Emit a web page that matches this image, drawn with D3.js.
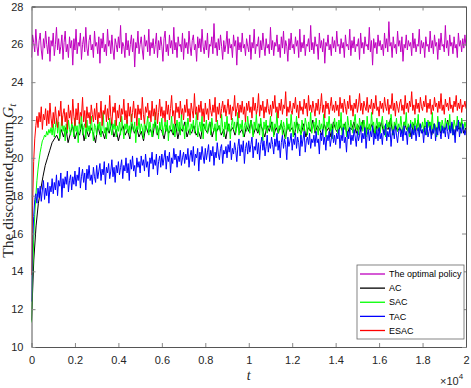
<!DOCTYPE html>
<html>
<head>
<meta charset="utf-8">
<script src="https://cdn.jsdelivr.net/npm/d3@7"></script>
<style>
  body { margin: 0; background: #fff; }
</style>
</head>
<body>
<script>
// every run covers t = 0 .. 20000, samples evenly spaced over that span
const tMax = 20000;

const xTickValues = [0, 2000, 4000, 6000, 8000, 10000, 12000, 14000, 16000, 18000, 20000];
const xTickLabels = ['0', '0.2', '0.4', '0.6', '0.8', '1', '1.2', '1.4', '1.6', '1.8', '2'];
const yTickValues = [10, 12, 14, 16, 18, 20, 22, 24, 26, 28];

const seriesNames = ['The optimal policy', 'AC', 'SAC', 'TAC', 'ESAC'];
const seriesColors = ['#bf00bf', '#000000', '#00ff00', '#0000ff', '#ff0000'];

const optimalValues = [
  25.3, 26.5, 26.1, 25.6, 26.8, 25.9, 25.4, 26.2, 26.6, 25.7, 25.2, 26.3, 25.8, 26.7, 26.0, 25.5, 26.4, 25.1, 26.2, 25.9,
  26.6, 25.4, 26.0, 26.9, 25.7, 26.3, 25.5, 25.9, 26.5, 25.2, 26.1, 26.7, 25.6, 26.0, 25.3, 26.4, 25.8, 26.2, 24.9, 26.3,
  25.7, 26.8, 25.5, 26.1, 25.9, 26.6, 25.2, 26.0, 26.4, 25.6, 26.9, 25.8, 25.4, 26.2, 26.5, 25.7, 26.0, 25.3, 26.7, 25.9,
  26.1, 25.5, 26.4, 25.0, 26.3, 25.8, 26.6, 25.6, 26.0, 25.4, 26.8, 25.9, 26.2, 25.5, 26.5, 25.7, 25.2, 26.3, 26.0, 25.6,
  26.4, 25.8, 27.0, 25.5, 26.1, 25.9, 25.3, 26.6, 25.7, 26.2, 25.4, 26.0, 26.5, 25.6, 26.3, 24.8, 26.1, 25.8, 26.7, 25.5,
  26.0, 26.4, 25.7, 25.2, 26.5, 25.9, 26.2, 25.6, 26.8, 25.4, 26.1, 25.8, 26.3, 25.5, 26.0, 26.6, 25.3, 26.2, 25.7, 26.4,
  25.9, 25.1, 26.3, 26.7, 25.6, 26.0, 25.4, 26.5, 25.8, 26.2, 25.5, 26.9, 25.7, 26.1, 25.3, 26.4, 25.9, 26.0, 25.6, 26.6,
  25.2, 26.3, 25.8, 26.1, 25.5, 26.7, 25.9, 25.4, 26.2, 26.5, 25.7, 26.0, 25.1, 26.4, 25.8, 26.3, 25.6, 26.8, 25.9, 25.5,
  26.2, 25.7, 26.6, 25.3, 26.0, 25.9, 26.4, 25.5, 27.1, 25.8, 26.1, 25.4, 26.3, 25.7, 26.5, 25.9, 25.2, 26.2, 25.6, 26.0,
  26.7, 25.5, 26.3, 25.8, 26.0, 25.3, 26.5, 25.9, 26.2, 24.9, 26.4, 25.7, 26.1, 25.6, 26.6, 25.8, 26.0, 25.4, 26.3, 25.9,
  25.6, 26.5, 25.2, 26.1, 25.8, 26.8, 25.5, 26.0, 25.9, 26.4, 25.3, 26.2, 25.7, 26.6, 25.9, 25.4, 26.3, 25.8, 26.0, 25.5,
  26.9, 25.7, 26.2, 25.4, 26.1, 25.9, 26.5, 25.6, 26.0, 25.3, 26.4, 25.8, 26.7, 25.5, 26.2, 25.9, 25.1, 26.3, 25.7, 26.6,
  25.8, 26.0, 25.5, 26.4, 25.9, 26.2, 25.3, 26.8, 25.6, 26.1, 25.8, 26.5, 25.4, 26.0, 25.9, 26.3, 25.6, 27.0, 25.7, 26.1,
  25.5, 26.4, 25.9, 26.0, 25.2, 26.6, 25.8, 26.2, 25.6, 26.3, 25.0, 26.1, 25.9, 26.5, 25.7, 26.0, 25.4, 26.4, 25.8, 26.2,
  25.6, 26.7, 25.9, 26.0, 25.5, 26.3, 25.8, 26.1, 25.3, 26.5, 25.9, 26.0, 25.7, 26.8, 25.4, 26.2, 25.8, 26.4, 25.6, 26.0,
  25.9, 26.3, 25.2, 26.6, 25.8, 26.1, 25.5, 26.4, 25.9, 26.0, 25.7, 26.9, 25.6, 26.2, 24.9, 26.3, 25.8, 26.1, 25.5, 26.5,
  25.9, 26.2, 25.7, 26.0, 25.4, 26.6, 25.8, 26.3, 25.6, 27.2, 25.9, 26.1, 25.3, 26.4, 25.8, 26.0, 25.5, 26.7, 25.9, 26.2,
  25.6, 26.4, 25.1, 26.0, 25.8, 26.5, 25.7, 26.2, 25.9, 26.1, 25.4, 26.6, 25.8, 26.3, 25.6, 26.0, 25.9, 26.8, 25.5, 26.2,
  25.8, 26.1, 25.3, 26.4, 25.9, 26.0, 25.6, 26.7, 25.8, 26.2, 25.5, 26.5, 25.9, 26.1, 25.2, 26.3, 25.7, 26.6, 25.9, 26.0,
  25.6, 27.0, 25.8, 26.2, 25.4, 26.5, 25.9, 26.1, 25.5, 26.4, 25.8, 26.0, 25.3, 26.6, 25.9, 26.2, 25.6, 26.3, 25.8, 26.5,
  25.9
];

const acValues = [
  11.4, 14.6, 16.4, 17.6, 18.3, 19.0, 19.6, 20.0, 20.4, 20.8, 21.0,
  21.2, 20.9, 21.5, 21.1, 21.6, 20.8, 21.3, 21.7, 21.0, 21.4,
  21.2, 21.8, 20.9, 21.5, 21.1, 21.6, 21.3, 20.8, 21.7, 21.2,
  21.4, 21.0, 21.6, 21.3, 21.9, 21.1, 21.5, 20.9, 21.4, 21.7,
  21.2, 21.5, 21.0, 21.8, 21.3, 21.6, 21.1, 21.4, 20.9, 21.7,
  21.3, 21.5, 21.1, 21.9, 21.2, 21.6, 21.4, 21.0, 21.7, 21.3,
  21.5, 21.2, 21.8, 21.0, 21.6, 21.4, 21.9, 21.1, 21.5, 21.3,
  21.7, 21.2, 21.4, 21.0, 21.8, 21.5, 21.3, 21.9, 21.1, 21.6,
  21.4, 21.7, 21.2, 21.5, 21.0, 21.8, 21.4, 21.6, 21.2, 21.9,
  21.3, 21.5, 21.1, 21.7, 21.4, 22.0, 21.2, 21.6, 21.3, 21.8,
  21.5, 21.1, 21.7, 21.4, 21.9, 21.2, 21.6, 21.3, 21.8, 21.5,
  21.0, 21.7, 21.4, 21.6, 21.2, 21.9, 21.5, 21.3, 21.8, 21.1,
  21.6, 21.4, 22.0, 21.3, 21.7, 21.5, 21.2, 21.8, 21.4, 21.6,
  21.1, 21.9, 21.5, 21.3, 21.7, 21.4, 21.8, 21.2, 21.6, 21.5,
  21.9, 21.3, 21.7, 21.4, 22.0, 21.2, 21.6, 21.5, 21.8, 21.1,
  21.7, 21.4, 21.9, 21.3, 21.6, 21.5, 22.1, 21.2, 21.8, 21.4,
  21.6, 21.3, 21.9, 21.5, 21.7, 21.1, 21.8, 21.4, 22.0, 21.5,
  21.3, 21.7, 21.6, 21.9, 21.2, 21.8, 21.4, 21.7, 21.3, 21.6,
  21.5, 22.0, 21.4, 21.8, 21.2, 21.7, 21.5, 21.9, 21.3, 21.6
];

const sacValues = [
  11.3, 13.8, 15.7, 17.0, 18.0, 18.8, 19.4, 19.9, 20.3, 20.6, 20.9, 21.0, 21.2, 21.1, 21.4, 21.2, 21.5, 21.3, 21.6, 21.2,
  21.8, 21.1, 21.6, 22.1, 21.3, 21.9, 21.0, 21.5, 22.2, 21.4, 21.7, 20.9, 21.8, 21.3, 22.0, 21.5, 21.2, 21.9, 21.6, 21.1,
  22.1, 21.4, 21.7, 20.8, 21.9, 21.5, 22.3, 21.2, 21.6, 21.8, 21.0, 22.0, 21.4, 21.7, 21.3, 22.2, 21.5, 20.9, 21.8, 21.6,
  21.2, 22.0, 21.5, 21.9, 21.1, 21.7, 22.4, 21.3, 21.6, 21.0, 21.9, 21.4, 22.1, 21.6, 21.2, 21.8, 21.5, 22.0, 21.1, 21.7,
  21.4, 21.9, 21.2, 22.2, 21.6, 21.0, 21.8, 21.5, 22.0, 21.3, 21.7, 21.1, 22.3, 21.6, 21.4, 21.9, 20.8, 21.7, 21.5, 22.1,
  21.3, 21.8, 21.6, 21.0, 22.0, 21.4, 21.7, 22.2, 21.2, 21.9, 21.5, 21.1, 21.8, 21.6, 22.4, 21.3, 21.7, 21.0, 21.9, 21.5,
  22.1, 21.2, 21.6, 21.9, 21.4, 22.0, 20.9, 21.7, 21.5, 22.2, 21.3, 21.8, 21.1, 21.6, 22.0, 21.4, 21.9, 21.2, 22.3, 21.5,
  21.7, 21.0, 21.9, 21.4, 22.1, 21.6, 21.2, 21.8, 21.5, 22.0, 21.3, 21.7, 22.4, 21.1, 21.6, 21.9, 21.4, 22.2, 21.0, 21.8,
  21.5, 22.0, 21.3, 21.7, 21.9, 21.2, 22.1, 21.6, 21.4, 21.8, 20.9, 22.0, 21.5, 21.7, 21.3, 22.3, 21.6, 21.1, 21.9, 21.5,
  22.2, 21.4, 21.8, 21.0, 21.7, 22.1, 21.5, 21.9, 21.3, 21.6, 22.4, 21.2, 21.8, 21.5, 22.0, 21.1, 21.7, 21.9, 21.4, 22.2,
  21.6, 21.3, 22.0, 21.7, 21.1, 21.9, 21.5, 22.3, 21.4, 21.8, 21.2, 22.1, 21.6, 20.9, 21.9, 21.5, 22.0, 21.3, 21.7, 21.6,
  22.2, 21.4, 21.9, 21.1, 21.8, 21.6, 22.4, 21.3, 21.7, 21.5, 22.0, 21.2, 21.9, 21.6, 21.0, 22.1, 21.5, 21.8, 21.4, 22.3,
  21.6, 21.1, 21.9, 21.5, 22.2, 21.3, 21.8, 21.7, 21.0, 22.0, 21.6, 21.4, 22.1, 21.8, 21.2, 21.9, 21.5, 22.4, 21.3, 21.7,
  21.9, 21.4, 22.1, 21.6, 21.2, 22.0, 21.5, 21.8, 21.3, 22.3, 21.7, 21.1, 21.9, 21.6, 22.2, 21.4, 21.8, 21.0, 21.7, 22.1,
  21.5, 21.9, 21.3, 22.0, 21.6, 22.4, 21.2, 21.8, 21.5, 21.9, 21.1, 22.2, 21.7, 21.4, 22.0, 21.6, 21.3, 21.9, 22.3, 21.5,
  21.8, 21.2, 22.1, 21.6, 21.9, 21.4, 22.0, 21.7, 21.1, 22.2, 21.5, 21.8, 21.3, 22.4, 21.6, 21.9, 21.2, 21.7, 22.1, 21.5,
  21.9, 21.3, 21.8, 22.2, 21.5, 21.7, 21.1, 22.0, 21.6, 21.9, 21.4, 22.3, 21.7, 21.2, 21.9, 21.6, 22.1, 21.4, 21.8, 21.5,
  22.2, 21.6, 21.3, 21.9, 21.7, 22.4, 21.4, 21.8, 21.1, 22.0, 21.6, 21.9, 21.3, 22.1, 21.7, 21.5, 22.3, 21.2, 21.8, 21.6,
  21.9, 21.4, 22.1, 21.7, 21.2, 22.0, 21.6, 21.9, 21.5, 22.4, 21.3, 21.8, 21.7, 21.1, 22.2, 21.6, 21.9, 21.4, 22.0, 21.7,
  21.3, 22.1, 21.6, 21.9, 21.5, 22.3, 21.4, 21.8, 21.2, 22.0, 21.7, 21.5, 22.2, 21.6, 21.9, 21.3, 22.1, 21.7, 21.5, 21.9,
  21.6
];

const tacValues = [
  12.4, 15.5, 16.9, 17.8, 18.1, 17.6, 18.4, 17.9, 18.5, 17.7, 18.3, 18.8, 17.8, 18.4, 18.0, 18.7, 17.6, 18.5, 18.2, 18.9,
  18.1, 18.7, 18.3, 19.1, 18.0, 18.8, 18.5, 19.2, 17.9, 18.9, 18.4, 19.0, 18.6, 19.3, 18.2, 18.8, 19.1, 18.3, 19.0, 18.6,
  19.3, 18.5, 19.1, 18.8, 19.5, 18.4, 19.0, 19.4, 18.7, 19.2, 18.3, 19.4, 18.9, 19.6, 18.8, 19.1, 18.6, 19.5, 19.0, 18.7,
  19.6, 18.9, 19.3, 19.7, 18.8, 19.4, 19.1, 19.8, 18.6, 19.5, 19.2, 19.7, 18.9, 19.3, 19.9, 19.0, 19.5, 18.7, 19.6, 19.2,
  19.8, 19.1, 19.5, 19.9, 18.9, 19.6, 19.3, 20.0, 19.2, 19.7, 18.8, 19.9, 19.4, 20.1, 19.3, 19.6, 19.0, 20.0, 19.5, 19.8,
  19.2, 20.1, 19.6, 19.9, 19.3, 20.2, 19.5, 19.8, 19.0, 20.0, 19.7, 20.3, 19.4, 19.9, 19.6, 20.2, 19.1, 19.8, 20.1, 19.5,
  20.2, 19.6, 20.0, 20.4, 19.4, 20.1, 19.8, 20.3, 19.2, 20.0, 19.7, 20.5, 19.9, 20.2, 19.5, 20.1, 19.8, 20.4, 19.6, 20.0,
  20.3, 19.7, 20.2, 19.9, 20.5, 19.5, 20.1, 20.4, 19.8, 20.6, 19.6, 20.2, 20.0, 20.5, 19.3, 20.3, 19.9, 20.6, 20.1, 19.7,
  20.5, 19.9, 20.3, 20.7, 19.8, 20.4, 20.1, 20.6, 19.6, 20.3, 20.0, 20.8, 20.2, 19.9, 20.5, 20.7, 19.7, 20.4, 20.2, 20.6,
  20.0, 20.7, 20.3, 20.9, 19.9, 20.5, 20.2, 20.8, 20.4, 19.8, 20.6, 21.0, 20.1, 20.7, 20.3, 20.9, 19.7, 20.5, 20.8, 20.2,
  20.9, 20.3, 20.7, 21.1, 20.0, 20.6, 20.4, 21.0, 20.2, 20.8, 19.9, 20.7, 21.1, 20.4, 20.9, 20.1, 20.6, 21.2, 20.3, 20.8,
  20.5, 21.1, 20.7, 20.2, 21.0, 20.6, 21.3, 20.4, 20.9, 20.0, 20.8, 21.2, 20.5, 21.0, 20.7, 19.9, 21.1, 20.6, 20.9, 21.3,
  20.4, 21.0, 20.7, 21.3, 20.5, 21.1, 20.8, 20.1, 21.2, 20.6, 21.0, 21.4, 20.3, 20.9, 21.1, 20.7, 21.3, 20.5, 21.0, 20.8,
  21.2, 20.6, 21.4, 20.8, 21.0, 20.2, 21.3, 20.9, 21.5, 20.7, 21.1, 20.4, 21.2, 20.9, 21.4, 20.6, 21.0, 21.5, 20.8, 21.2,
  20.7, 21.3, 21.0, 21.5, 20.5, 21.2, 20.9, 21.6, 20.8, 21.1, 20.3, 21.4, 21.0, 21.6, 20.7, 21.2, 20.9, 21.5, 21.1, 20.6,
  21.4, 20.9, 21.2, 21.7, 20.8, 21.3, 21.0, 21.6, 20.5, 21.2, 21.5, 20.9, 21.4, 21.1, 21.7, 20.7, 21.3, 21.0, 21.5, 20.9,
  21.6, 21.0, 21.3, 20.7, 21.5, 21.2, 21.8, 20.9, 21.4, 21.1, 21.6, 20.6, 21.3, 21.5, 21.0, 21.7, 21.2, 20.8, 21.4, 21.6,
  21.1, 21.5, 20.9, 21.7, 21.2, 21.4, 20.7, 21.6, 21.3, 21.8, 21.0, 21.5, 21.2, 21.7, 20.9, 21.4, 21.6, 21.1, 21.8, 21.3,
  21.5, 20.8, 21.6, 21.2, 21.9, 21.1, 21.4, 21.7, 21.0, 21.5, 21.3, 21.8, 20.9, 21.6, 21.2, 21.9, 21.4, 21.0, 21.7, 21.3,
  21.6, 21.1, 21.8, 21.4, 21.0, 21.7, 21.3, 21.9, 21.2, 21.5, 20.8, 21.7, 21.4, 22.0, 21.1, 21.6, 21.3, 21.8, 21.5, 21.2,
  21.5
];

const esacValues = [
  13.8, 17.5, 19.8, 21.0, 21.7, 22.2, 21.6, 22.4, 21.9, 22.7, 21.5, 22.3, 22.0, 22.6, 21.7, 22.5, 21.8, 22.9, 22.1, 21.6,
  22.4, 21.8, 22.7, 22.0, 21.6, 22.5, 22.2, 23.0, 21.7, 22.3, 22.6, 21.9, 22.4, 21.5, 22.8, 22.1, 22.5, 21.8, 23.1, 22.2,
  21.7, 22.6, 22.0, 22.9, 21.8, 22.4, 22.2, 23.2, 21.9, 22.5, 21.6, 22.7, 22.1, 22.4, 21.8, 22.8, 22.3, 21.9, 22.6, 22.0,
  22.9, 21.8, 22.4, 22.1, 23.0, 21.7, 22.5, 22.3, 22.8, 21.9, 22.6, 22.0, 23.3, 22.2, 21.8, 22.7, 22.4, 22.9, 21.7, 22.5,
  22.1, 22.8, 21.9, 22.6, 22.3, 23.1, 22.0, 22.5, 21.8, 22.9, 22.2, 22.7, 21.9, 22.4, 23.0, 22.1, 22.6, 21.7, 22.8, 22.3,
  22.6, 22.0, 23.2, 22.3, 21.8, 22.7, 22.4, 22.9, 22.1, 22.5, 21.9, 23.0, 22.2, 22.6, 22.0, 22.8, 21.8, 22.4, 23.1, 22.2,
  22.7, 22.1, 22.5, 21.9, 23.0, 22.3, 22.8, 22.0, 22.6, 23.3, 22.2, 22.5, 21.8, 22.9, 22.4, 22.7, 22.1, 23.0, 22.3, 22.6,
  22.0, 22.8, 22.4, 23.1, 22.2, 22.6, 21.9, 22.9, 22.5, 22.1, 23.4, 22.3, 22.7, 22.0, 22.8, 22.4, 23.0, 22.2, 22.6, 21.9,
  22.9, 22.3, 22.6, 22.0, 23.1, 22.5, 22.2, 22.8, 22.4, 23.2, 21.9, 22.7, 22.3, 22.9, 22.1, 22.6, 23.0, 22.4, 22.8, 22.2,
  22.6, 23.1, 22.3, 22.8, 22.0, 22.7, 22.5, 23.3, 22.2, 22.6, 22.9, 22.1, 22.8, 22.4, 23.0, 22.3, 22.7, 21.9, 22.9, 22.5,
  23.0, 22.4, 22.7, 22.1, 23.2, 22.5, 22.9, 22.3, 22.6, 23.4, 22.2, 22.8, 22.5, 23.0, 22.1, 22.7, 22.4, 23.1, 22.6, 22.3,
  22.8, 22.2, 23.0, 22.6, 23.3, 22.4, 22.7, 22.1, 22.9, 22.5, 23.1, 22.3, 22.8, 22.6, 23.5, 22.2, 22.7, 22.4, 23.0, 22.5,
  22.3, 22.9, 22.6, 23.2, 22.4, 22.8, 22.1, 23.0, 22.5, 22.7, 22.3, 23.1, 22.6, 22.9, 22.2, 23.3, 22.5, 22.8, 22.4, 23.0,
  22.6, 22.2, 22.9, 22.5, 23.1, 22.3, 22.7, 23.4, 22.4, 22.8, 22.1, 23.0, 22.6, 22.9, 22.3, 22.7, 23.2, 22.5, 22.8, 22.4,
  23.0, 22.5, 22.8, 22.2, 23.2, 22.6, 22.9, 22.4, 23.1, 22.7, 22.3, 23.0, 22.6, 23.3, 22.5, 22.8, 22.2, 22.9, 22.6, 23.1,
  22.4, 22.8, 23.4, 22.5, 22.9, 22.3, 23.0, 22.7, 22.5, 23.2, 22.4, 22.8, 22.6, 23.1, 22.3, 22.9, 22.6, 23.3, 22.5, 22.7,
  22.2, 23.0, 22.6, 22.9, 22.4, 23.2, 22.7, 22.5, 23.1, 22.3, 22.8, 22.6, 23.4, 22.5, 22.9, 22.2, 23.0, 22.7, 22.4, 22.9,
  23.1, 22.5, 22.8, 22.3, 23.3, 22.6, 22.9, 22.4, 23.0, 22.7, 23.5, 22.5, 22.8, 22.3, 23.1, 22.6, 22.9, 22.4, 23.2, 22.7,
  22.5, 23.0, 22.7, 23.3, 22.4, 22.9, 22.6, 23.1, 22.3, 22.8, 22.5, 23.2, 22.7, 22.9, 22.4, 23.0, 22.6, 23.4, 22.5, 22.8,
  22.3, 23.1, 22.7, 22.9, 22.5, 23.2, 22.6, 22.8, 22.4, 23.0, 22.7, 23.3, 22.5, 22.9, 22.6, 23.1, 22.4, 22.8, 22.7, 23.0,
  22.6
];

const allValues = [optimalValues, acValues, sacValues, tacValues, esacValues];

const W = 471, H = 388;
const plotLeft = 31.5, plotRight = 466, plotTop = 6.5, plotBottom = 347;

const svg = d3.select('body').append('svg')
    .attr('width', W)
    .attr('height', H)
    .attr('xmlns', 'http://www.w3.org/2000/svg');

svg.append('rect').attr('width', W).attr('height', H).attr('fill', 'white');

const x = d3.scaleLinear().domain([0, tMax]).range([plotLeft, plotRight]);
const y = d3.scaleLinear().domain([10, 28]).range([plotBottom, plotTop]);

svg.append('defs').append('clipPath').attr('id', 'plot')
  .append('rect')
    .attr('x', plotLeft).attr('y', plotTop)
    .attr('width', plotRight - plotLeft).attr('height', plotBottom - plotTop);

// series, drawn in legend order so ESAC sits on top
const lines = svg.append('g').attr('clip-path', 'url(#plot)');
allValues.forEach((vals, k) => {
    const step = tMax / (vals.length - 1);
    const line = d3.line()
        .x((d, i) => x(i * step))
        .y(d => y(d));
    lines.append('path')
        .datum(vals)
        .attr('fill', 'none')
        .attr('stroke', seriesColors[k])
        .attr('stroke-width', 1)
        .attr('d', line);
});

// axes, MATLAB style: inward ticks on all four sides
const tickFont = 'Arial, "Liberation Sans", sans-serif';

const xAxis = svg.append('g')
    .attr('transform', `translate(0,${plotBottom})`)
    .call(d3.axisBottom(x)
        .tickValues(xTickValues)
        .tickFormat((d, i) => xTickLabels[i])
        .tickSizeInner(-4)
        .tickSizeOuter(0)
        .tickPadding(9));

const yAxis = svg.append('g')
    .attr('transform', `translate(${plotLeft},0)`)
    .call(d3.axisLeft(y)
        .tickValues(yTickValues)
        .tickFormat(d3.format('d'))
        .tickSizeInner(-4)
        .tickSizeOuter(0)
        .tickPadding(8));

const xTop = svg.append('g')
    .attr('transform', `translate(0,${plotTop})`)
    .call(d3.axisTop(x).tickValues(xTickValues).tickFormat('').tickSizeInner(-4).tickSizeOuter(0));

const yRight = svg.append('g')
    .attr('transform', `translate(${plotRight},0)`)
    .call(d3.axisRight(y).tickValues(yTickValues).tickFormat('').tickSizeInner(-4).tickSizeOuter(0));

[xAxis, yAxis, xTop, yRight].forEach(a => {
    a.select('.domain').attr('stroke', '#555').attr('stroke-width', 1);
    a.selectAll('.tick line').attr('stroke', '#888');
    a.selectAll('.tick text')
        .attr('fill', '#262626')
        .style('font-family', tickFont)
        .style('font-size', '11px');
});
xTop.select('.domain').attr('stroke', '#222');

// axis labels
svg.append('text')
    .attr('x', x(10000))
    .attr('y', 380)
    .attr('text-anchor', 'middle')
    .style('font-family', '"Liberation Serif", "DejaVu Serif", serif')
    .style('font-style', 'italic')
    .style('font-size', '14px')
    .attr('fill', '#262626')
    .text('t');

const yLabel = svg.append('text')
    .attr('transform', `translate(13,${(plotTop + plotBottom) / 2 + 4}) rotate(-90)`)
    .attr('text-anchor', 'middle')
    .style('font-family', '"Liberation Serif", "DejaVu Serif", serif')
    .style('font-size', '15.5px')
    .attr('fill', '#262626');
yLabel.append('tspan').text('The discounted return ');
yLabel.append('tspan').style('font-style', 'italic').text('G');
yLabel.append('tspan').style('font-style', 'italic').style('font-size', '11px')
    .attr('dy', 3).text('t');

// exponent label
const expLabel = svg.append('text')
    .attr('x', 440)
    .attr('y', 385)
    .style('font-family', tickFont)
    .style('font-size', '11px')
    .attr('fill', '#262626');
expLabel.append('tspan').text('\u00d710');
expLabel.append('tspan').attr('dy', -6).style('font-size', '8px').text('4');

// legend
const legend = svg.append('g');
legend.append('rect')
    .attr('x', 357).attr('y', 265)
    .attr('width', 107).attr('height', 74)
    .attr('fill', 'white')
    .attr('stroke', '#666')
    .attr('stroke-width', 0.8);

const legendY = d3.scalePoint().domain(seriesNames).range([274, 330.5]);
seriesNames.forEach((name, k) => {
    const ly = legendY(name);
    legend.append('line')
        .attr('x1', 360).attr('x2', 385)
        .attr('y1', ly).attr('y2', ly)
        .attr('stroke', seriesColors[k])
        .attr('stroke-width', 1.3);
    legend.append('text')
        .attr('x', 389).attr('y', ly + 3.2)
        .style('font-family', tickFont)
        .style('font-size', '9px')
        .attr('fill', '#000')
        .text(name);
});
</script>
</body>
</html>
